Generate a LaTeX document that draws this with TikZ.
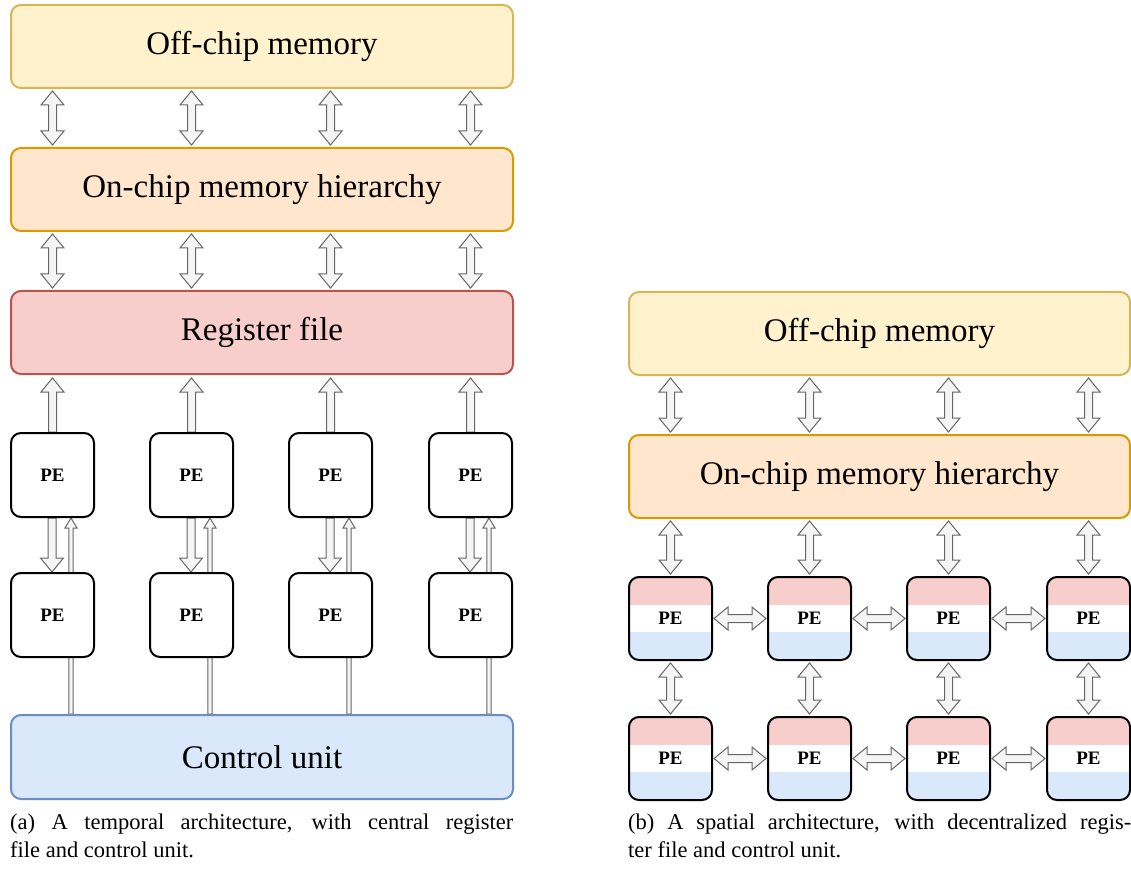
\documentclass[tikz,border=0pt]{standalone}
\usepackage{fontspec}
\setmainfont{Liberation Serif}
\usetikzlibrary{calc}

\definecolor{offfill}{HTML}{FFF2CC}
\definecolor{offline}{HTML}{D6B656}
\definecolor{onfill}{HTML}{FFE6CC}
\definecolor{online}{HTML}{D79B00}
\definecolor{regfill}{HTML}{F8CECC}
\definecolor{regline}{HTML}{B85450}
\definecolor{ctlfill}{HTML}{DAE8FC}
\definecolor{ctlline}{HTML}{6C8EBF}
\definecolor{arrfill}{HTML}{F5F5F5}
\definecolor{arrline}{HTML}{666666}

\pgfdeclarelayer{bg}
\pgfsetlayers{bg,main}

\tikzset{
  arrw/.store in=\arrW, arrh/.store in=\arrH, arrk/.store in=\arrK,
  arrw=4pt, arrh=11.5pt, arrk=14pt,
  thinarrow/.style={arrw=2.2pt, arrh=6pt, arrk=10pt},
  % block arrow with a head at both ends
  dbl/.style={draw=arrline, fill=arrfill, line width=1pt, line join=miter, to path={
    (\tikztostart)
    -- ($(\tikztostart)!\arrK!(\tikztotarget)!\arrH!90:(\tikztotarget)$)
    -- ($(\tikztostart)!\arrK!(\tikztotarget)!\arrW!90:(\tikztotarget)$)
    -- ($(\tikztotarget)!\arrK!(\tikztostart)!\arrW!-90:(\tikztostart)$)
    -- ($(\tikztotarget)!\arrK!(\tikztostart)!\arrH!-90:(\tikztostart)$)
    -- (\tikztotarget)
    -- ($(\tikztotarget)!\arrK!(\tikztostart)!\arrH!90:(\tikztostart)$)
    -- ($(\tikztotarget)!\arrK!(\tikztostart)!\arrW!90:(\tikztostart)$)
    -- ($(\tikztostart)!\arrK!(\tikztotarget)!\arrW!-90:(\tikztotarget)$)
    -- ($(\tikztostart)!\arrK!(\tikztotarget)!\arrH!-90:(\tikztotarget)$)
    -- cycle}},
  % block arrow with a single head at the target
  sgl/.style={draw=arrline, fill=arrfill, line width=1pt, line join=miter, to path={
    ($(\tikztostart)!\arrW!90:(\tikztotarget)$)
    -- ($(\tikztotarget)!\arrK!(\tikztostart)!\arrW!-90:(\tikztostart)$)
    -- ($(\tikztotarget)!\arrK!(\tikztostart)!\arrH!-90:(\tikztostart)$)
    -- (\tikztotarget)
    -- ($(\tikztotarget)!\arrK!(\tikztostart)!\arrH!90:(\tikztostart)$)
    -- ($(\tikztotarget)!\arrK!(\tikztostart)!\arrW!90:(\tikztostart)$)
    -- ($(\tikztostart)!\arrW!-90:(\tikztotarget)$)
    -- cycle}},
  bigbox/.style={rectangle, rounded corners=10pt, line width=2pt, minimum width=502pt,
    minimum height=83pt, inner sep=0pt, anchor=north west, font=\fontsize{33}{33}\selectfont},
  pe/.style={rectangle, rounded corners=10pt, line width=2pt, draw=black, fill=white,
    minimum width=83pt, minimum height=84pt, inner sep=0pt, anchor=north west,
    font=\bfseries\fontsize{19}{19}\selectfont},
  pethree/.style={pe, minimum height=83pt, path picture={
    \fill[regfill, sharp corners] (path picture bounding box.north west) rectangle
      ($(path picture bounding box.north east)!0.333!(path picture bounding box.south east)$);
    \fill[ctlfill, sharp corners] ($(path picture bounding box.north west)!0.667!(path picture bounding box.south west)$)
      rectangle (path picture bounding box.south east);}},
  caption/.style={anchor=base west, inner sep=0pt}
}

\begin{document}
\begin{tikzpicture}[x=1pt, y=-1pt]
\useasboundingbox (0,0) rectangle (1131,874);

% ---------- temporal architecture ----------
\node[bigbox, fill=offfill, draw=offline] (offL) at (10,4) {Off-chip memory};
\node[bigbox, fill=onfill, draw=online] (onL) at (10,147) {On-chip memory hierarchy};
\node[bigbox, fill=regfill, draw=regline] (regL) at (10,290) {Register file};
\node[bigbox, fill=ctlfill, draw=ctlline, minimum height=84pt] (ctlL) at (10,714) {Control unit};
\foreach \x [count=\i] in {10,149,288,428} {
  \node[pe] (ta\i) at (\x,432) {PE};
  \node[pe] (tb\i) at (\x,572) {PE};
}

% ---------- spatial architecture ----------
\node[bigbox, minimum width=501pt, fill=offfill, draw=offline] (offR) at (628,291) {Off-chip memory};
\node[bigbox, minimum width=501pt, fill=onfill, draw=online] (onR) at (628,434) {On-chip memory hierarchy};
\foreach \x [count=\i] in {628,767,906,1046} {
  \node[pethree] (sa\i) at (\x,576) {PE};
  \node[pethree] (sb\i) at (\x,716) {PE};
}

% ---------- connectors ----------
\begin{pgfonlayer}{bg}
\foreach \i in {1,...,4} {
  \draw[dbl] ($(ta\i |- offL.south)+(0,2)$) to ($(ta\i |- onL.north)+(0,-2)$);
  \draw[dbl] ($(ta\i |- onL.south)+(0,2)$) to ($(ta\i |- regL.north)+(0,-2)$);
  \draw[sgl] (ta\i.north) to ($(ta\i |- regL.south)+(0,3)$);
  \draw[sgl] ($(ta\i.south)+(-0.5,0)$) to ($(tb\i.north)+(-0.5,0)$);
  \draw[sgl, thinarrow] ($(ta\i |- ctlL.north)+(18.5,0)$) to ($(ta\i.south)+(18.5,0)$);

  \draw[dbl] ($(sa\i |- offR.south)+(0,2)$) to ($(sa\i |- onR.north)+(0,-2)$);
  \draw[dbl] ($(sa\i |- onR.south)+(0,2)$) to ($(sa\i.north)+(0,-2)$);
  \draw[dbl] ($(sa\i.south)+(0,2)$) to ($(sb\i.north)+(0,-2)$);
}
\foreach \i/\j in {1/2,2/3,3/4} {
  \draw[dbl] ($(sa\i.east)+(1,0)$) to ($(sa\j.west)+(-1,0)$);
  \draw[dbl] ($(sb\i.east)+(1,0)$) to ($(sb\j.west)+(-1,0)$);
}
\end{pgfonlayer}

% ---------- captions ----------
\node[caption] (capA) at (10,829) {\parbox[t]{503pt}{\fontsize{22.5}{28}\selectfont
  (a) A temporal architecture, with central register\linebreak file and control unit.}};
\node[caption] (capB) at (628,829) {\parbox[t]{503pt}{\fontsize{22.5}{28}\selectfont
  (b) A spatial architecture, with decentralized regis-\linebreak ter file and control unit.}};
\end{tikzpicture}
\end{document}
